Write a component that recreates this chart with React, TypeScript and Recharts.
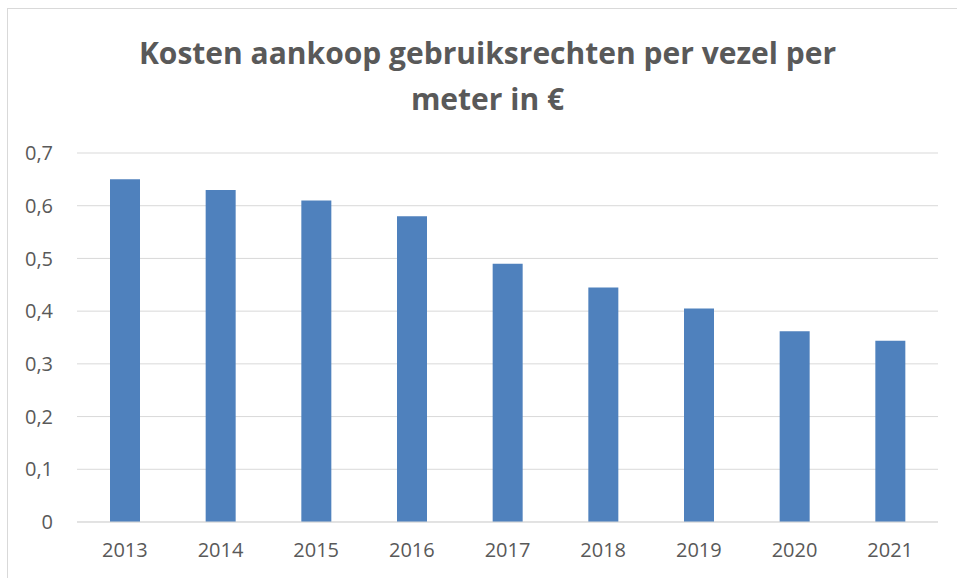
import React from "react";
import { BarChart, Bar, XAxis, YAxis, CartesianGrid } from "recharts";

const years = ["2013", "2014", "2015", "2016", "2017", "2018", "2019", "2020", "2021"];
const costs = [0.65, 0.63, 0.61, 0.58, 0.49, 0.445, 0.405, 0.362, 0.344];
const yTicks = [0, 0.1, 0.2, 0.3, 0.4, 0.5, 0.6, 0.7];
const titleLines = ["Kosten aankoop gebruiksrechten per vezel per", "meter in €"];

const data = years.map((y, i) => ({ year: y, value: costs[i] }));

const TEXT = "#595959";
const FONT = "'Open Sans', sans-serif";

export default function App() {
  return (
    <div
      style={{
        position: "absolute",
        left: 0,
        top: 0,
        width: 957,
        height: 578,
        background: "#fff",
        overflow: "hidden",
        fontFamily: FONT,
      }}
    >
      <div
        style={{
          position: "absolute",
          left: 7,
          top: 8,
          width: 1000,
          height: 700,
          border: "1px solid #D9D9D9",
          boxSizing: "border-box",
        }}
      />
      <div
        style={{
          position: "absolute",
          left: 7,
          top: 30,
          width: 961,
          textAlign: "center",
          fontSize: 30,
          lineHeight: "46px",
          fontWeight: 700,
          color: TEXT,
        }}
      >
        {titleLines.map((l) => (
          <div key={l}>{l}</div>
        ))}
      </div>
      <div style={{ position: "absolute", left: 0, top: 0 }}>
        <BarChart
          width={957}
          height={578}
          data={data}
          margin={{ top: 153, right: 19, bottom: 26, left: 0 }}
        >
          <CartesianGrid vertical={false} stroke="#D9D9D9" strokeWidth={1} />
          <XAxis
            dataKey="year"
            axisLine={{ stroke: "#D9D9D9" }}
            tickLine={false}
            tickMargin={15}
            tick={{ fill: TEXT, fontSize: 20, fontFamily: FONT }}
          />
          <YAxis
            width={77}
            domain={[0, 0.7]}
            ticks={yTicks}
            axisLine={false}
            tickLine={false}
            tickMargin={18}
            tickFormatter={(v: number) => String(Math.round(v * 10) / 10).replace(".", ",")}
            tick={{ fill: TEXT, fontSize: 20, fontFamily: FONT }}
          />
          <Bar dataKey="value" fill="#4F81BD" barSize={30} isAnimationActive={false} />
        </BarChart>
      </div>
    </div>
  );
}
